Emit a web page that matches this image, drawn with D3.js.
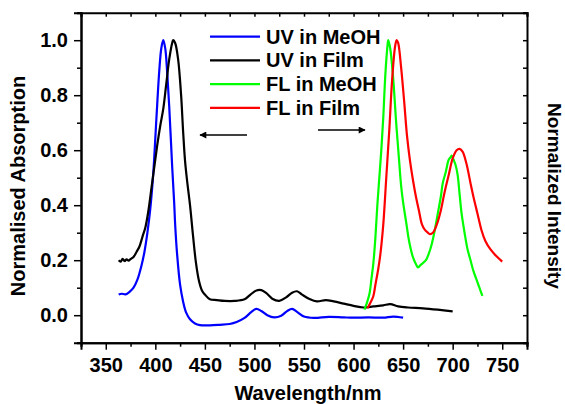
<!DOCTYPE html>
<html>
<head>
<meta charset="utf-8">
<script src="https://cdn.jsdelivr.net/npm/d3@7"></script>
<style>
  body { margin: 0; background: #fff; }
  text { font-family: "Liberation Sans", Arial, sans-serif; font-weight: bold; }
</style>
</head>
<body>
<div id="chart"></div>
<script>
// UV in MeOH (blue)
var uvMeohWl = [363,366,370,374,378,382,386,389,392,395,398,401,404,406,408,410,412,414,417,419,420,422,425,428,431,435,440,445,455,465,475,482,490,497,502,507,513,520,527,533,538,543,550,560,575,590,600,615,630,640,650];
var uvMeohVal = [0.075,0.078,0.076,0.085,0.10,0.13,0.18,0.23,0.30,0.39,0.52,0.71,0.89,0.97,1.0,0.97,0.88,0.76,0.54,0.41,0.33,0.22,0.11,0.05,0.01,-0.015,-0.03,-0.036,-0.037,-0.035,-0.032,-0.025,-0.01,0.012,0.023,0.015,0.0,-0.008,-0.002,0.015,0.023,0.012,-0.005,-0.01,-0.006,-0.008,-0.009,-0.008,-0.009,-0.005,-0.009];

// UV in Film (black)
var uvFilmWl = [363,365,367,369,371,373,375,378,381,384,387,390,393,396,399,402,405,408,411,414,417,418,420,423,426,428,430,432,435,438,441,444,447,450,455,462,470,480,490,496,502,507,512,518,525,532,538,543,548,555,563,572,580,590,600,610,620,630,637,645,655,670,685,700];
var uvFilmVal = [0.20,0.195,0.205,0.197,0.203,0.198,0.204,0.212,0.23,0.25,0.285,0.32,0.38,0.46,0.54,0.62,0.69,0.75,0.84,0.93,0.99,1.0,0.99,0.93,0.80,0.67,0.56,0.49,0.40,0.29,0.19,0.125,0.09,0.075,0.058,0.055,0.052,0.052,0.058,0.075,0.09,0.091,0.08,0.06,0.052,0.065,0.082,0.087,0.075,0.06,0.05,0.055,0.05,0.042,0.034,0.028,0.032,0.036,0.04,0.032,0.028,0.025,0.02,0.014];

// FL in MeOH (green)
var flMeohWl = [611,613,616,618,620,622,624,626,628,630,632,634,635,637,640,643,646,648,650,653,656,660,663,665,667,670,673,676,679,682,685,688,690,693,696,698,699,701,703,705,707,709,712,715,718,721,724,727,730];
var flMeohVal = [0.02,0.04,0.077,0.13,0.19,0.28,0.40,0.50,0.60,0.72,0.87,0.97,1.0,0.97,0.86,0.70,0.56,0.47,0.41,0.34,0.27,0.21,0.185,0.174,0.18,0.19,0.20,0.225,0.26,0.31,0.37,0.43,0.48,0.52,0.565,0.575,0.58,0.565,0.545,0.51,0.44,0.37,0.30,0.24,0.20,0.16,0.13,0.10,0.07];

// FL in Film (red)
var flFilmWl = [614,617,620,622,625,627,630,633,636,639,642,643.5,645,648,651,654,657,660,663,666,669,672,675,677,680,684,688,692,696,700,704,707,710,714,718,721,725,729,733,738,744,750];
var flFilmVal = [0.025,0.045,0.07,0.11,0.17,0.22,0.33,0.50,0.67,0.86,0.98,1.0,0.99,0.90,0.78,0.65,0.56,0.49,0.43,0.38,0.33,0.31,0.30,0.295,0.30,0.33,0.38,0.45,0.51,0.57,0.60,0.605,0.595,0.55,0.48,0.43,0.37,0.31,0.27,0.24,0.215,0.195];

var seriesNames = ["UV in MeOH", "UV in Film", "FL in MeOH", "FL in Film"];
var seriesColors = ["#0000ff", "#000000", "#00ff00", "#ff0000"];

var xMajor = [350,400,450,500,550,600,650,700,750];
var xMinor = [325,375,425,475,525,575,625,675,725,775];
var yMajor = [0.0,0.2,0.4,0.6,0.8,1.0];
var yMinor = [-0.1,0.1,0.3,0.5,0.7,0.9,1.1];

var width = 565, height = 404;
var mLeft = 81, mRight = 527, mTop = 12.7, mBottom = 342.7;
var fs = 20;

var svg = d3.select("#chart").append("svg")
    .attr("width", width)
    .attr("height", height);

var x = d3.scaleLinear().domain([325, 775]).range([mLeft, mRight]);
var y = d3.scaleLinear().domain([-0.1, 1.1]).range([mBottom, mTop]);

function styleAxis(g) {
    g.select(".domain").attr("stroke-width", 2);
    g.selectAll(".tick line").attr("stroke-width", 1.5);
    g.selectAll("text").attr("font-size", fs).attr("font-family", null).attr("fill", "#000");
}

// bottom axis
svg.append("g").attr("transform", "translate(0," + mBottom + ")")
    .call(d3.axisBottom(x).tickValues(xMinor).tickSize(4).tickFormat(""))
    .call(styleAxis);
svg.append("g").attr("transform", "translate(0," + mBottom + ")")
    .call(d3.axisBottom(x).tickValues(xMajor).tickSize(7).tickPadding(8).tickFormat(d3.format("d")))
    .call(styleAxis);

// left axis
svg.append("g").attr("transform", "translate(" + mLeft + ",0)")
    .call(d3.axisLeft(y).tickValues(yMinor).tickSize(4).tickFormat(""))
    .call(styleAxis);
svg.append("g").attr("transform", "translate(" + mLeft + ",0)")
    .call(d3.axisLeft(y).tickValues(yMajor).tickSize(7).tickPadding(6).tickFormat(d3.format(".1f")))
    .call(styleAxis);

// top axis, ticks inward
svg.append("g").attr("transform", "translate(0," + mTop + ")")
    .call(d3.axisTop(x).tickValues(xMajor.concat(xMinor)).tickSize(-4).tickFormat(""))
    .call(styleAxis);

// right axis, ticks inward
svg.append("g").attr("transform", "translate(" + mRight + ",0)")
    .call(d3.axisRight(y).tickValues(yMajor.concat(yMinor)).tickSize(-4).tickFormat(""))
    .call(styleAxis);

// lines
var line = d3.line()
    .x(function(d) { return x(d[0]); })
    .y(function(d) { return y(d[1]); })
    .curve(d3.curveCatmullRom);

var allSeries = [
    d3.zip(uvMeohWl, uvMeohVal),
    d3.zip(uvFilmWl, uvFilmVal),
    d3.zip(flMeohWl, flMeohVal),
    d3.zip(flFilmWl, flFilmVal)
];

// draw order: blue, black, green, red
allSeries.forEach(function(s, i) {
    svg.append("path")
        .datum(s)
        .attr("fill", "none")
        .attr("stroke", seriesColors[i])
        .attr("stroke-width", 2.2)
        .attr("stroke-linejoin", "round")
        .attr("d", line);
});

// legend
var legend = svg.append("g");
seriesNames.forEach(function(name, i) {
    var ly = 36.7 + i * 23.7;
    legend.append("line")
        .attr("x1", 210).attr("x2", 260)
        .attr("y1", ly).attr("y2", ly)
        .attr("stroke", seriesColors[i])
        .attr("stroke-width", 2.2);
    legend.append("text")
        .attr("x", 266).attr("y", ly + 7)
        .attr("font-size", fs)
        .text(name);
});

// arrows
svg.append("defs").append("marker")
    .attr("id", "arrow")
    .attr("viewBox", "0 0 10 10")
    .attr("refX", 9).attr("refY", 5)
    .attr("markerWidth", 9).attr("markerHeight", 7)
    .attr("markerUnits", "userSpaceOnUse")
    .attr("orient", "auto")
    .append("path").attr("d", "M0,0L10,5L0,10Z").attr("fill", "#000");

svg.append("line")
    .attr("x1", 247).attr("y1", 135).attr("x2", 200).attr("y2", 135)
    .attr("stroke", "#000").attr("stroke-width", 1.5)
    .attr("marker-end", "url(#arrow)");
svg.append("line")
    .attr("x1", 318).attr("y1", 130).attr("x2", 365).attr("y2", 130)
    .attr("stroke", "#000").attr("stroke-width", 1.5)
    .attr("marker-end", "url(#arrow)");

// axis titles
svg.append("text")
    .attr("x", (mLeft + mRight) / 2 + 4).attr("y", 400)
    .attr("text-anchor", "middle")
    .attr("font-size", fs)
    .text("Wavelength/nm");

svg.append("text")
    .attr("transform", "translate(25,186) rotate(-90)")
    .attr("text-anchor", "middle")
    .attr("font-size", fs)
    .text("Normalised Absorption");

svg.append("text")
    .attr("transform", "translate(548,196) rotate(90)")
    .attr("text-anchor", "middle")
    .attr("font-size", 19)
    .text("Normalized Intensity");
</script>
</body>
</html>
